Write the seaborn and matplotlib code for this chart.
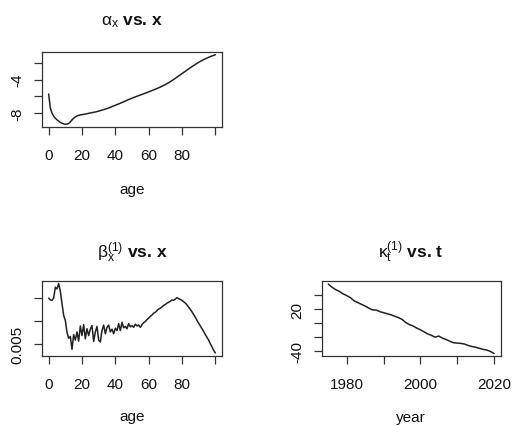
import numpy as np
import pandas as pd
import matplotlib
matplotlib.use("Agg")
import matplotlib.pyplot as plt
import seaborn as sns

# ---------------- data ----------------
ages = list(range(0, 101))
alpha_x = [
    -5.72, -7.40, -8.00, -8.35, -8.60, -8.80, -8.95, -9.10, -9.20, -9.28,
    -9.32, -9.30, -9.22, -9.05, -8.80, -8.60, -8.45, -8.33, -8.27, -8.22,
    -8.18, -8.15, -8.11, -8.07, -8.02, -7.98, -7.94, -7.90, -7.86, -7.81,
    -7.76, -7.70, -7.64, -7.58, -7.52, -7.45, -7.38, -7.30, -7.22, -7.14,
    -7.06, -6.98, -6.90, -6.82, -6.73, -6.65, -6.56, -6.47, -6.38, -6.30,
    -6.22, -6.14, -6.06, -5.99, -5.92, -5.84, -5.77, -5.69, -5.62, -5.54,
    -5.46, -5.39, -5.31, -5.23, -5.15, -5.07, -4.98, -4.89, -4.80, -4.70,
    -4.60, -4.49, -4.37, -4.25, -4.12, -3.99, -3.85, -3.71, -3.57, -3.43,
    -3.29, -3.15, -3.01, -2.87, -2.73, -2.59, -2.46, -2.33, -2.20, -2.07,
    -1.95, -1.84, -1.73, -1.63, -1.53, -1.44, -1.35, -1.27, -1.19, -1.12,
    -1.05,
]
beta_x = [
    0.0150, 0.0146, 0.0145, 0.0150, 0.0174, 0.0170, 0.0182, 0.0165, 0.0138, 0.0112,
    0.0101, 0.0075, 0.0062, 0.0066, 0.0038, 0.0070, 0.0058, 0.0076, 0.0056, 0.0089,
    0.0068, 0.0092, 0.0061, 0.0083, 0.0068, 0.0082, 0.0090, 0.0055, 0.0076, 0.0088,
    0.0058, 0.0054, 0.0079, 0.0091, 0.0072, 0.0086, 0.0091, 0.0076, 0.0082, 0.0072,
    0.0084, 0.0079, 0.0094, 0.0079, 0.0097, 0.0085, 0.0088, 0.0083, 0.0094, 0.0087,
    0.0090, 0.0086, 0.0093, 0.0089, 0.0091, 0.0086, 0.0092, 0.0096, 0.0099, 0.0103,
    0.0106, 0.0110, 0.0113, 0.0117, 0.0119, 0.0123, 0.0126, 0.0128, 0.0131, 0.0134,
    0.0136, 0.0139, 0.0141, 0.0143, 0.0146, 0.0145, 0.0148, 0.0151, 0.0149, 0.0147,
    0.0145, 0.0142, 0.0139, 0.0135, 0.0130, 0.0125, 0.0120, 0.0114, 0.0108, 0.0101,
    0.0095, 0.0089, 0.0083, 0.0077, 0.0070, 0.0064, 0.0058, 0.0050, 0.0043, 0.0036,
    0.0030,
]
years = list(range(1975, 2021))
kappa_t = [
    56.0, 51.5, 48.0, 45.5, 42.0, 39.5, 36.5, 32.0, 29.5, 27.0,
    24.5, 21.5, 19.0, 18.8, 16.5, 15.0, 13.5, 12.0, 10.0, 8.0,
    5.5, 1.0, -2.0, -4.0, -7.0, -9.5, -12.5, -15.5, -17.5, -20.0,
    -18.5, -21.5, -23.5, -26.0, -28.0, -28.5, -29.0, -30.0, -32.0, -33.5,
    -34.5, -36.0, -37.5, -38.5, -40.5, -43.5,
]

age_ticks = [0, 20, 40, 60, 80, 100]
age_labels = ["0", "20", "40", "60", "80", ""]
alpha_ticks = [-8, -6, -4, -2]
alpha_labels = ["-8", "", "-4", ""]
beta_ticks = [0.005, 0.010, 0.015]
beta_labels = ["0.005", "", ""]
year_ticks = [1980, 1990, 2000, 2010, 2020]
year_labels = ["1980", "", "2000", "", "2020"]
kappa_ticks = [-40, -20, 0, 20, 40]
kappa_labels = ["-40", "", "", "20", ""]

titles = [r"$\mathrm{\alpha}_\mathrm{x}$ vs. x",
          r"$\mathrm{\beta}_\mathrm{x}^{\mathrm{(1)}}$ vs. x",
          r"$\mathrm{\kappa}_\mathrm{t}^{\mathrm{(1)}}$ vs. t"]

# ---------------- style ----------------
sns.set_style("white")
plt.rcParams["font.family"] = ["Liberation Sans", "DejaVu Sans"]
plt.rcParams["mathtext.fontset"] = "custom"
plt.rcParams["mathtext.rm"] = "Liberation Sans"
plt.rcParams["mathtext.it"] = "Liberation Sans:italic"

W, H = 515, 427
fig = plt.figure(figsize=(W / 100, H / 100), dpi=100)
fig.patch.set_facecolor("white")

LINE = "#222222"
FS = 11


def make_ax(x0, y0, x1, y1):
    return fig.add_axes([x0 / W, 1 - y1 / H, (x1 - x0) / W, (y1 - y0) / H])


def style(ax, xt, xl, yt, yl, xlabel, lab_off):
    ax.margins(x=0.04, y=0.04)
    ax.set_xticks(xt, xl)
    ax.set_yticks(yt, yl)
    for s in ax.spines.values():
        s.set_visible(True)
        s.set_color("#333333")
        s.set_linewidth(0.9)
    ax.tick_params(axis="both", direction="out", length=5.5, width=0.9,
                   color="#333333", labelsize=FS, labelcolor="#111111",
                   bottom=True, left=True)
    ax.tick_params(axis="x", pad=9.5)
    ax.tick_params(axis="y", pad=7)
    for t in ax.get_yticklabels():
        t.set_rotation(90)
        t.set_va("center")
    ax.set_xlabel(xlabel, fontsize=FS, va="center", color="#111111")
    ax.set_ylabel("")
    ax.xaxis.set_label_coords(0.5, lab_off)


ax1 = make_ax(42, 53, 222, 128)
sns.lineplot(x=ages, y=alpha_x, ax=ax1, color=LINE, linewidth=1.1)
style(ax1, age_ticks, age_labels, alpha_ticks, alpha_labels, "age", -62 / 75)

ax2 = make_ax(42, 281.7, 222, 356.7)
sns.lineplot(x=ages, y=beta_x, ax=ax2, color=LINE, linewidth=1.1)
style(ax2, age_ticks, age_labels, beta_ticks, beta_labels, "age", -60 / 75)

ax3 = make_ax(321.7, 282.3, 500.7, 357.3)
sns.lineplot(x=years, y=kappa_t, ax=ax3, color=LINE, linewidth=1.1)
style(ax3, year_ticks, year_labels, kappa_ticks, kappa_labels, "year", -61 / 75)

for (cx, by), t in zip([(132, 25), (132, 258.3), (411, 257.7)], titles):
    fig.text(cx / W, 1 - by / H, t, ha="center", va="baseline",
             fontsize=12.5, fontweight="bold", color="#111111")

fig.savefig("out.png", dpi=100, facecolor="white")
